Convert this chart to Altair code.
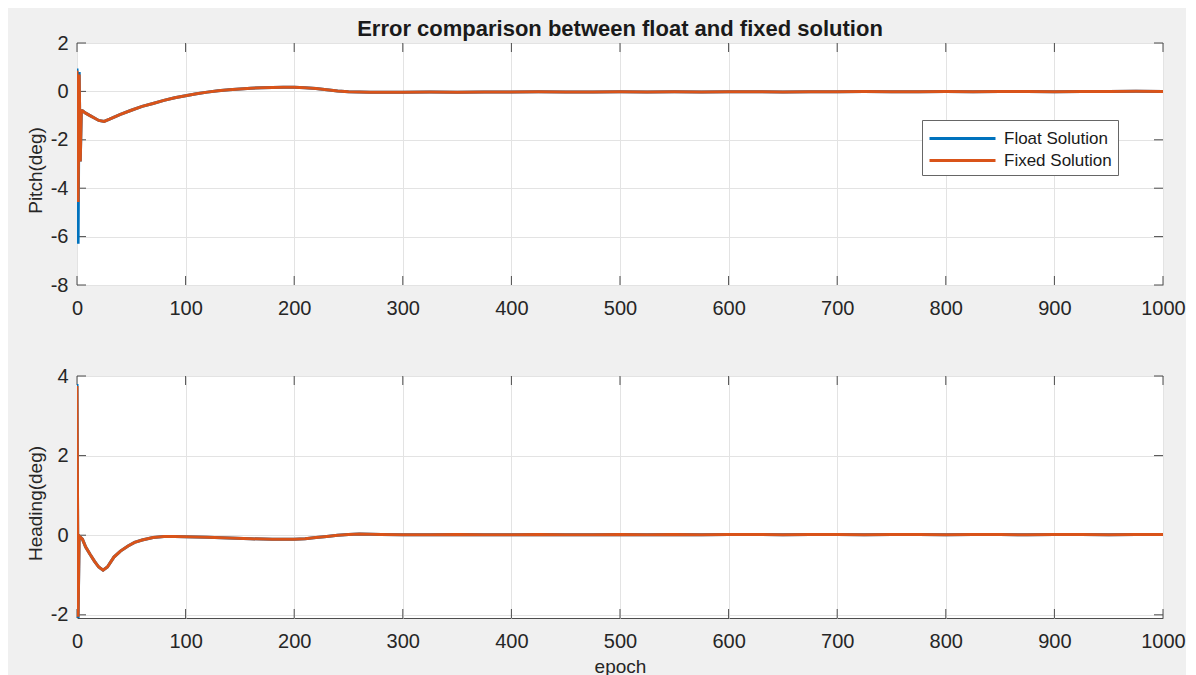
import altair as alt
import pandas as pd

TITLE = "Error comparison between float and fixed solution"
SERIES = ["Float Solution", "Fixed Solution"]
COLORS = ["#0072BD", "#D95319"]
X_TICKS = [0, 100, 200, 300, 400, 500, 600, 700, 800, 900, 1000]
PITCH_TICKS = [-8, -6, -4, -2, 0, 2]
HEADING_TICKS = [-2, 0, 2, 4]

pitch_epoch = [0, 1, 2, 3, 4, 5, 8, 12, 16, 20, 25, 30, 40, 50, 60, 70, 80, 90,
               100, 110, 120, 130, 140, 150, 160, 170, 180, 190, 200, 210, 220,
               230, 240, 250, 260, 270, 280, 300, 325, 350, 375, 400, 425, 450,
               475, 500, 525, 550, 575, 600, 625, 650, 675, 700, 725, 750, 775,
               800, 825, 850, 875, 900, 925, 950, 975, 1000]
pitch_fixed = [0.85, -4.57, 0.7, -2.9, -0.8, -0.8, -0.9, -1.0, -1.1, -1.2, -1.24,
               -1.15, -0.95, -0.78, -0.62, -0.5, -0.37, -0.26, -0.18, -0.1, -0.03,
               0.03, 0.07, 0.1, 0.13, 0.15, 0.16, 0.17, 0.17, 0.15, 0.12, 0.07,
               0.02, -0.01, -0.02, -0.03, -0.03, -0.03, -0.02, -0.03, -0.02, -0.02,
               -0.01, -0.02, -0.02, -0.01, -0.02, -0.01, -0.02, -0.01, -0.01, -0.02,
               -0.01, -0.01, 0.0, -0.01, -0.01, 0.0, -0.01, 0.0, 0.0, -0.01, 0.0,
               0.0, 0.01, 0.0]
pitch_float = [0.95, -6.3, 0.8, -2.9, -0.8, -0.8, -0.9, -1.0, -1.1, -1.2, -1.24,
               -1.15, -0.95, -0.78, -0.62, -0.5, -0.37, -0.26, -0.18, -0.1, -0.03,
               0.03, 0.07, 0.1, 0.13, 0.15, 0.16, 0.17, 0.17, 0.15, 0.12, 0.07,
               0.02, -0.01, -0.02, -0.03, -0.03, -0.03, -0.02, -0.03, -0.02, -0.02,
               -0.01, -0.02, -0.02, -0.01, -0.02, -0.01, -0.02, -0.01, -0.01, -0.02,
               -0.01, -0.01, 0.0, -0.01, -0.01, 0.0, -0.01, 0.0, 0.0, -0.01, 0.0,
               0.0, 0.01, 0.0]

heading_epoch = [0, 1, 2, 3, 5, 8, 12, 16, 20, 24, 28, 34, 40, 47, 53, 60, 70, 80,
                 90, 100, 120, 140, 160, 180, 200, 210, 220, 230, 240, 250, 260,
                 280, 300, 325, 350, 375, 400, 425, 450, 475, 500, 525, 550, 575,
                 600, 625, 650, 675, 700, 725, 750, 775, 800, 825, 850, 875, 900,
                 925, 950, 975, 1000]
heading_fixed = [3.75, -2.05, -0.02, -0.05, -0.1, -0.3, -0.48, -0.65, -0.8, -0.88,
                 -0.8, -0.55, -0.4, -0.27, -0.18, -0.12, -0.06, -0.03, -0.03, -0.04,
                 -0.05, -0.07, -0.09, -0.1, -0.1, -0.09, -0.06, -0.03, 0.0, 0.02,
                 0.03, 0.02, 0.01, 0.01, 0.02, 0.01, 0.01, 0.02, 0.01, 0.01, 0.02,
                 0.01, 0.02, 0.01, 0.02, 0.02, 0.01, 0.02, 0.02, 0.01, 0.02, 0.02,
                 0.01, 0.02, 0.02, 0.01, 0.02, 0.02, 0.01, 0.02, 0.02]
heading_float = [3.8, -2.12, -0.02, -0.05, -0.1, -0.3, -0.48, -0.65, -0.8, -0.88,
                 -0.8, -0.55, -0.4, -0.27, -0.18, -0.12, -0.06, -0.03, -0.03, -0.04,
                 -0.05, -0.07, -0.09, -0.1, -0.1, -0.09, -0.06, -0.03, 0.0, 0.02,
                 0.03, 0.02, 0.01, 0.01, 0.02, 0.01, 0.01, 0.02, 0.01, 0.01, 0.02,
                 0.01, 0.02, 0.01, 0.02, 0.02, 0.01, 0.02, 0.02, 0.01, 0.02, 0.02,
                 0.01, 0.02, 0.02, 0.01, 0.02, 0.02, 0.01, 0.02, 0.02]

W = 1086
H = 242
FONT = "Liberation Sans"
AXIS_COLOR = "#4d4d4d"
TEXT_COLOR = "#262626"
TICK_LEN = 9


def panel(epochs, floats, fixeds, ytitle, ydomain, yticks, xtitle, legend):
    df = pd.DataFrame({
        "epoch": epochs * 2,
        "value": floats + fixeds,
        "series": [SERIES[0]] * len(epochs) + [SERIES[1]] * len(epochs),
    })
    xscale = alt.Scale(domain=[0, 1000], nice=False, zero=False)
    yscale = alt.Scale(domain=ydomain, nice=False, zero=False)
    xaxis = alt.Axis(values=X_TICKS, title=xtitle, grid=True, gridColor="#e3e3e3",
                     ticks=False, domain=False, labelFlush=False, labelPadding=13,
                     labelExpr="'' + datum.value",
                     labelFontSize=20, labelFont=FONT, labelColor=TEXT_COLOR,
                     titleFont=FONT, titleFontSize=19, titleFontWeight="normal",
                     titleColor=TEXT_COLOR, titlePadding=6)
    yaxis = alt.Axis(values=yticks, title=ytitle, grid=True, gridColor="#e3e3e3",
                     ticks=False, domain=False, labelPadding=9,
                     labelExpr="'' + datum.value",
                     labelFontSize=20, labelFont=FONT, labelColor=TEXT_COLOR,
                     titleFont=FONT, titleFontSize=19, titleFontWeight="normal",
                     titleColor=TEXT_COLOR, titlePadding=5, titleY=H / 2 + 6)
    color = alt.Color(
        "series:N",
        scale=alt.Scale(domain=SERIES, range=COLORS),
        legend=alt.Legend(
            orient="none", legendX=845, legendY=77, title=None,
            symbolType="M-1,0H5", symbolSize=484, symbolStrokeWidth=3,
            labelFont=FONT, labelFontSize=17, labelColor="#1a1a1a",
            fillColor="white", strokeColor="#666666", padding=6,
            rowPadding=1, labelOffset=51,
        ) if legend else None,
    )
    lines = []
    for s in SERIES:
        lines.append(
            alt.Chart(df).transform_filter(alt.datum.series == s)
            .mark_line(strokeWidth=3, clip=True)
            .encode(x=alt.X("epoch:Q", scale=xscale, axis=xaxis),
                    y=alt.Y("value:Q", scale=yscale, axis=yaxis),
                    color=color)
        )
    xt = pd.DataFrame({"t": X_TICKS})
    yt = pd.DataFrame({"t": yticks})
    tick_style = dict(color=AXIS_COLOR, strokeWidth=1)
    ticks = [
        alt.Chart(xt).mark_rule(**tick_style).encode(
            x=alt.X("t:Q", scale=xscale), y=alt.value(H), y2=alt.value(H - TICK_LEN)),
        alt.Chart(xt).mark_rule(**tick_style).encode(
            x=alt.X("t:Q", scale=xscale), y=alt.value(0), y2=alt.value(TICK_LEN)),
        alt.Chart(yt).mark_rule(**tick_style).encode(
            y=alt.Y("t:Q", scale=yscale), x=alt.value(0), x2=alt.value(TICK_LEN)),
        alt.Chart(yt).mark_rule(**tick_style).encode(
            y=alt.Y("t:Q", scale=yscale), x=alt.value(W), x2=alt.value(W - TICK_LEN)),
    ]
    return alt.layer(*ticks, *lines).properties(width=W, height=H)


top = panel(pitch_epoch, pitch_float, pitch_fixed, "Pitch(deg)", [-8, 2],
            PITCH_TICKS, None, True).properties(
    title=alt.TitleParams(TITLE, font=FONT, fontSize=22, fontWeight="bold",
                          color="#1a1a1a", anchor="middle", offset=-8))
bottom = panel(heading_epoch, heading_float, heading_fixed, "Heading(deg)",
               [-2.08, 4], HEADING_TICKS, "epoch", False)

chart = alt.vconcat(top, bottom, spacing=46).properties(
    background="#f0f0f0",
    padding={"left": 17, "top": 9, "right": 0, "bottom": 0},
).configure_view(
    stroke=AXIS_COLOR, strokeWidth=1, fill="white"
).resolve_scale(color="shared")

chart.save("out.html", embed_options={"renderer": "svg", "actions": False})
